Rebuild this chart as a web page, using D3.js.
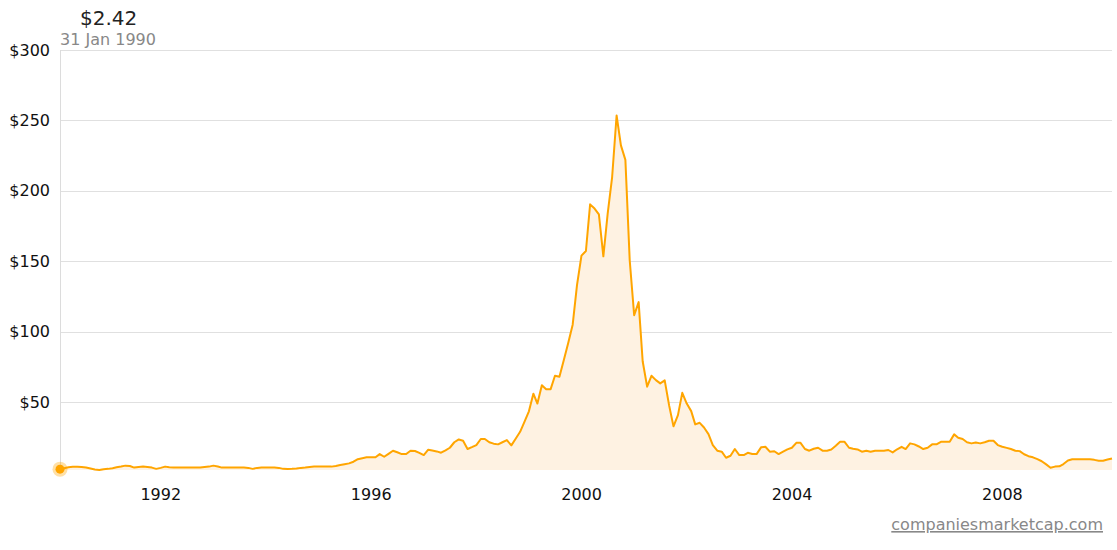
<!DOCTYPE html>
<html>
<head>
<meta charset="utf-8">
<script src="https://cdn.jsdelivr.net/npm/d3@7"></script>
<style>
  html, body { margin: 0; padding: 0; background: #fff; }
  svg { display: block; font-family: "DejaVu Sans", sans-serif; }
</style>
</head>
<body>
<svg id="chart" width="1117" height="550"></svg>
<script>
// ---- Data (monthly closing prices, USD, Jan 1990 .. Jan 2010) ----
const startYear = 1990;
const prices1990 = [2.42, 3.1, 3.8, 4.1, 4.1, 4.0, 3.6, 2.9, 2.2, 1.8, 2.4, 2.6];
const prices1991 = [3.1, 3.8, 4.3, 4.9, 4.6, 3.5, 4.0, 4.2, 4.0, 3.5, 2.6, 3.3];
const prices1992 = [4.2, 3.8, 3.5, 3.5, 3.5, 3.5, 3.5, 3.5, 3.6, 3.9, 4.2, 4.9];
const prices1993 = [4.3, 3.5, 3.5, 3.5, 3.5, 3.5, 3.5, 3.3, 2.6, 3.3, 3.5, 3.5];
const prices1994 = [3.5, 3.5, 3.3, 2.6, 2.5, 2.6, 2.8, 3.3, 3.5, 4.0, 4.2, 4.2];
const prices1995 = [4.2, 4.2, 4.2, 4.6, 5.3, 5.9, 6.5, 7.7, 9.5, 10.2, 10.8, 10.8];
const prices1996 = [10.8, 13.1, 11.2, 13.3, 15.5, 14.4, 13.1, 13.1, 15.5, 15.3, 14.0, 12.4];
const prices1997 = [16.2, 15.6, 15.0, 14.1, 15.8, 17.6, 21.5, 23.5, 22.6, 16.7, 18.0, 19.5];
const prices1998 = [23.8, 23.8, 21.5, 20.5, 20.0, 21.5, 23.0, 19.3, 24.0, 28.9, 36.0, 43.5];
const prices1999 = [56.0, 49.0, 62.0, 59.2, 59.2, 68.7, 68.0, 80.0, 92.0, 105.0, 133.0, 154.0];
const prices2000 = [157.3, 190.4, 187.4, 183.3, 153.5, 183.8, 209.8, 253.5, 232.3, 222.0, 150.7, 111.7];
const prices2001 = [121.0, 79.0, 61.0, 68.7, 65.6, 63.3, 65.4, 47.5, 32.8, 40.8, 56.6, 49.0];
const prices2002 = [43.6, 34.2, 35.3, 32.0, 27.3, 19.5, 15.5, 14.8, 10.5, 11.9, 16.7, 12.4];
const prices2003 = [12.4, 14.0, 13.1, 13.1, 17.9, 18.3, 14.8, 15.1, 13.1, 14.8, 16.4, 17.6];
const prices2004 = [21.1, 21.1, 16.7, 15.5, 16.9, 17.6, 15.5, 15.5, 16.4, 19.0, 21.8, 21.8];
const prices2005 = [17.6, 16.9, 16.4, 14.8, 15.5, 14.8, 15.5, 15.5, 15.5, 16.0, 14.3, 16.5];
const prices2006 = [18.3, 16.7, 20.7, 20.0, 18.5, 16.7, 17.6, 20.0, 20.0, 21.8, 21.8, 21.8];
const prices2007 = [27.1, 24.7, 23.8, 21.5, 20.7, 21.3, 20.7, 21.5, 22.6, 22.6, 19.5, 18.3];
const prices2008 = [17.5, 16.7, 15.5, 15.2, 13.0, 11.6, 10.8, 9.5, 8.0, 5.8, 3.4, 4.2];
const prices2009 = [4.4, 6.0, 8.5, 9.4, 9.4, 9.4, 9.4, 9.4, 9.0, 8.4, 8.4, 9.2];
const prices2010 = [10.0];

const yTickValues = [50, 100, 150, 200, 250, 300];
const xTickYears = [1992, 1996, 2000, 2004, 2008];
const headerValue = "$2.42";
const headerDate = "31 Jan 1990";
const sourceLabel = "companiesmarketcap.com";

const yearly = [prices1990, prices1991, prices1992, prices1993, prices1994, prices1995,
  prices1996, prices1997, prices1998, prices1999, prices2000, prices2001, prices2002,
  prices2003, prices2004, prices2005, prices2006, prices2007, prices2008, prices2009, prices2010];

const data = [];
yearly.forEach((arr, yi) => {
  arr.forEach((v, mi) => {
    data.push({ date: new Date(startYear + yi, mi + 1, 0), value: v });
  });
});

// ---- Layout ----
const svg = d3.select("#chart");
const plotLeft = 60, plotRight = 1112, plotTop = 50, plotBottom = 470;

const x = d3.scaleTime()
  .domain(d3.extent(data, d => d.date))
  .range([plotLeft, plotRight]);

const yMin = d3.min(data, d => d.value);
const y = d3.scaleLinear()
  .domain([yMin, 300])
  .range([plotBottom, plotTop]);

// gridlines
svg.append("g")
  .selectAll("line")
  .data(yTickValues)
  .join("line")
  .attr("x1", plotLeft).attr("x2", plotRight)
  .attr("y1", d => Math.round(y(d)) + 0.5).attr("y2", d => Math.round(y(d)) + 0.5)
  .attr("stroke", "#e0e0e0").attr("stroke-width", 1);

// y labels
svg.append("g")
  .selectAll("text")
  .data(yTickValues)
  .join("text")
  .attr("x", 50)
  .attr("y", d => y(d))
  .attr("dy", "0.35em")
  .attr("text-anchor", "end")
  .attr("font-size", 16)
  .attr("fill", "#111")
  .text(d => "$" + d);

// x axis labels
svg.append("g")
  .selectAll("text")
  .data(xTickYears)
  .join("text")
  .attr("x", d => x(new Date(d, 0, 1)))
  .attr("y", 500)
  .attr("text-anchor", "middle")
  .attr("font-size", 16)
  .attr("fill", "#111")
  .text(d => d);

// area
const area = d3.area()
  .x(d => x(d.date))
  .y0(plotBottom)
  .y1(d => y(d.value));

svg.append("path")
  .datum(data)
  .attr("d", area)
  .attr("fill", "#fef2e2");

// hover vertical line
svg.append("line")
  .attr("x1", Math.round(x(data[0].date)) + 0.5).attr("x2", Math.round(x(data[0].date)) + 0.5)
  .attr("y1", plotTop).attr("y2", plotBottom)
  .attr("stroke", "#dcdcdc").attr("stroke-width", 1);

// line
const line = d3.line()
  .x(d => x(d.date))
  .y(d => y(d.value));

svg.append("path")
  .datum(data)
  .attr("d", line)
  .attr("fill", "none")
  .attr("stroke", "#ffa500")
  .attr("stroke-width", 2)
  .attr("stroke-linejoin", "round");

// hover dot
svg.append("circle")
  .attr("cx", x(data[0].date)).attr("cy", y(data[0].value))
  .attr("r", 7.5)
  .attr("fill", "rgba(255,165,0,0.35)");
svg.append("circle")
  .attr("cx", x(data[0].date)).attr("cy", y(data[0].value))
  .attr("r", 4.5)
  .attr("fill", "#ffa500");

// header
svg.append("text")
  .attr("x", 80).attr("y", 25)
  .attr("font-size", 20)
  .attr("fill", "#222")
  .text(headerValue);
svg.append("text")
  .attr("x", 60).attr("y", 45)
  .attr("font-size", 16)
  .attr("fill", "#888")
  .text(headerDate);

// source
svg.append("text")
  .attr("x", 1103).attr("y", 530)
  .attr("text-anchor", "end")
  .attr("font-size", 16)
  .attr("fill", "#888")
  .attr("text-decoration", "underline")
  .text(sourceLabel);
</script>
</body>
</html>
